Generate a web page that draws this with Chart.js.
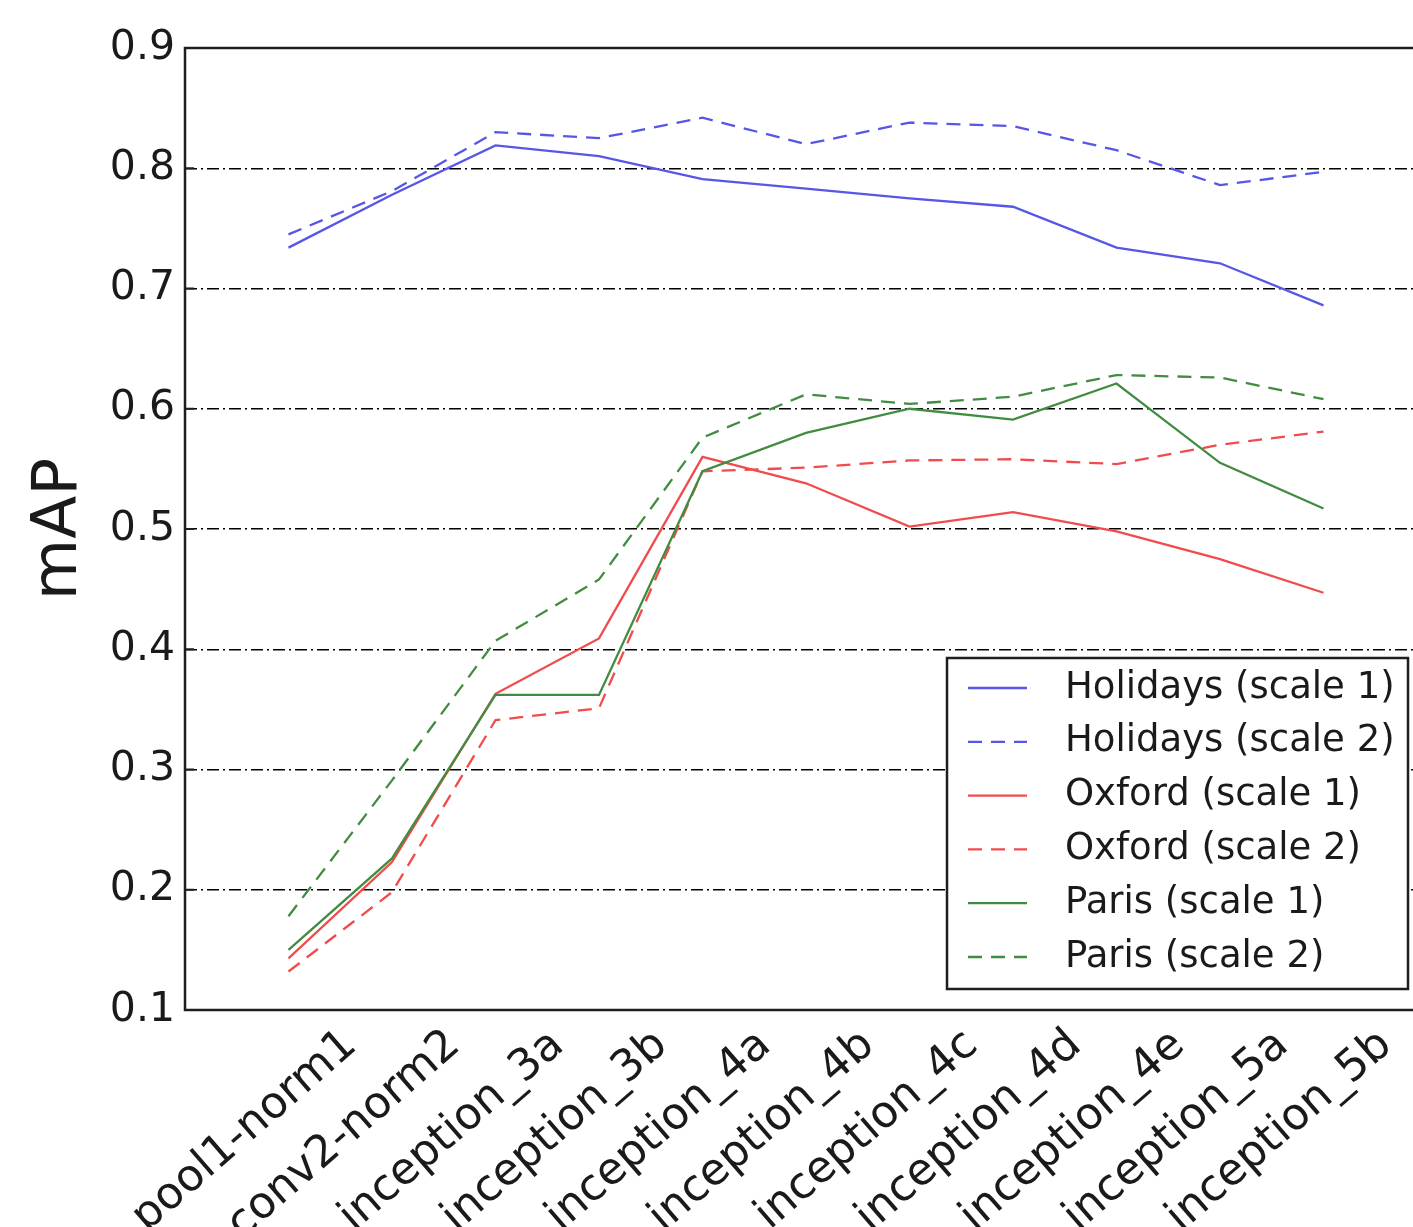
<!DOCTYPE html>
<html>
<head>
<meta charset="utf-8">
<script src="https://cdn.jsdelivr.net/npm/chart.js@4.4.0/dist/chart.umd.min.js"></script>
<style>
  html, body { margin: 0; padding: 0; background: #fff; overflow: hidden; }
  #grafica { display: block; }
</style>
</head>
<body>
<canvas id="grafica" width="1430" height="1227"></canvas>
<script>
const labels = ['pool1-norm1', 'conv2-norm2', 'inception_3a', 'inception_3b', 'inception_4a',
  'inception_4b', 'inception_4c', 'inception_4d', 'inception_4e', 'inception_5a', 'inception_5b'];

const holidays1 = [0.734, 0.778, 0.819, 0.810, 0.791, 0.783, 0.775, 0.768, 0.734, 0.721, 0.686];
const holidays2 = [0.745, 0.781, 0.830, 0.825, 0.842, 0.820, 0.838, 0.835, 0.815, 0.786, 0.797];
const oxford1 = [0.143, 0.223, 0.363, 0.409, 0.560, 0.538, 0.502, 0.514, 0.498, 0.475, 0.447];
const oxford2 = [0.132, 0.198, 0.341, 0.351, 0.548, 0.551, 0.557, 0.558, 0.554, 0.570, 0.581];
const paris1 = [0.150, 0.226, 0.362, 0.362, 0.548, 0.580, 0.600, 0.591, 0.621, 0.555, 0.517];
const paris2 = [0.178, 0.291, 0.407, 0.458, 0.576, 0.612, 0.604, 0.610, 0.628, 0.626, 0.608];

const yTicks = [0.1, 0.2, 0.3, 0.4, 0.5, 0.6, 0.7, 0.8, 0.9];

const FONT = '"DejaVu Sans", "Liberation Sans", sans-serif';
const blue = '#5656e8';
const red = '#f04c4c';
const green = '#428c42';
const dash = [14, 9];

function serie(name, values, color, dashed, order) {
  return {
    label: name,
    data: values.map((v, i) => ({x: i, y: v})),
    borderColor: color,
    backgroundColor: color,
    borderWidth: 2.3,
    borderDash: dashed ? dash : [],
    pointRadius: 0,
    tension: 0,
    order: order
  };
}

// frame + inward ticks like matplotlib
const frame = {
  id: 'frame',
  afterDatasetsDraw(chart) {
    const {ctx, chartArea: a} = chart;
    const ys = chart.scales.y;
    ctx.save();
    ctx.strokeStyle = '#1e1e1e';
    ctx.lineWidth = 2.5;
    ctx.setLineDash([]);
    ctx.strokeRect(a.left, a.top, a.right - a.left, a.bottom - a.top);
    ctx.lineWidth = 2;
    yTicks.forEach(t => {
      const y = ys.getPixelForValue(t);
      ctx.beginPath();
      ctx.moveTo(a.left, y); ctx.lineTo(a.left + 9, y);
      ctx.moveTo(a.right, y); ctx.lineTo(a.right - 9, y);
      ctx.stroke();
    });
    ctx.restore();
  }
};

// rotated category labels, text end just right of the tick
const xLabels = {
  id: 'xLabels',
  afterDraw(chart) {
    const {ctx, chartArea: a} = chart;
    const xs = chart.scales.x;
    ctx.save();
    ctx.font = '44px ' + FONT;
    ctx.fillStyle = '#1a1a1a';
    ctx.textAlign = 'right';
    ctx.textBaseline = 'alphabetic';
    labels.forEach((lab, i) => {
      ctx.save();
      ctx.translate(xs.getPixelForValue(i) + 70, a.bottom + 38);
      ctx.rotate(-41 * Math.PI / 180);
      ctx.fillText(lab, 0, 0);
      ctx.restore();
    });
    ctx.restore();
  }
};

// legend box, lower right inside the axes
const legendBox = {
  id: 'legendBox',
  afterDraw(chart) {
    const {ctx, chartArea: a} = chart;
    const right = a.right - 19, bottom = a.bottom - 21;
    const left = right - 461, top = bottom - 331;
    ctx.save();
    ctx.fillStyle = '#fff';
    ctx.fillRect(left, top, right - left, bottom - top);
    ctx.strokeStyle = '#1e1e1e';
    ctx.lineWidth = 2.5;
    ctx.strokeRect(left, top, right - left, bottom - top);
    ctx.font = '37px ' + FONT;
    ctx.textBaseline = 'middle';
    ctx.textAlign = 'left';
    chart.data.datasets.forEach((ds, k) => {
      const y = top + 30 + k * 53.8;
      ctx.strokeStyle = ds.borderColor;
      ctx.lineWidth = ds.borderWidth;
      ctx.setLineDash(ds.borderDash);
      ctx.beginPath();
      ctx.moveTo(left + 21, y);
      ctx.lineTo(left + 80, y);
      ctx.stroke();
      ctx.setLineDash([]);
      ctx.fillStyle = '#1a1a1a';
      ctx.fillText(ds.label, left + 118, y);
    });
    ctx.restore();
  }
};

const data = {
  datasets: [
    serie('Holidays (scale 1)', holidays1, blue, false, 5),
    serie('Holidays (scale 2)', holidays2, blue, true, 4),
    serie('Oxford (scale 1)', oxford1, red, false, 3),
    serie('Oxford (scale 2)', oxford2, red, true, 2),
    serie('Paris (scale 1)', paris1, green, false, 1),
    serie('Paris (scale 2)', paris2, green, true, 0)
  ]
};

const config = {
  type: 'line',
  data: data,
  options: {
    responsive: false,
    animation: false,
    layout: { padding: { top: 48, right: 3, bottom: 0, left: 0 } },
    plugins: {
      legend: { display: false },
      tooltip: { enabled: false }
    },
    scales: {
      x: {
        type: 'linear',
        min: -1,
        max: 11,
        ticks: { display: false },
        grid: { display: false },
        border: { display: false },
        afterFit: (scale) => { scale.height = 217; }
      },
      y: {
        type: 'linear',
        min: 0.1,
        max: 0.9,
        afterBuildTicks: (scale) => { scale.ticks = yTicks.map(v => ({value: v})); },
        ticks: {
          padding: 10,
          color: '#1a1a1a',
          font: { family: FONT, size: 41 },
          callback: (v) => v.toFixed(1)
        },
        grid: { color: '#000', lineWidth: 1.4, drawTicks: false },
        border: { display: false, dash: [12, 4, 2, 4] },
        title: {
          display: true,
          text: 'mAP',
          color: '#1a1a1a',
          font: { family: FONT, size: 63 },
          padding: { top: 22, bottom: 0 }
        },
        afterFit: (scale) => { scale.width = 185; }
      }
    }
  },
  plugins: [frame, xLabels, legendBox]
};

new Chart(document.querySelector('#grafica'), config);
</script>
</body>
</html>
